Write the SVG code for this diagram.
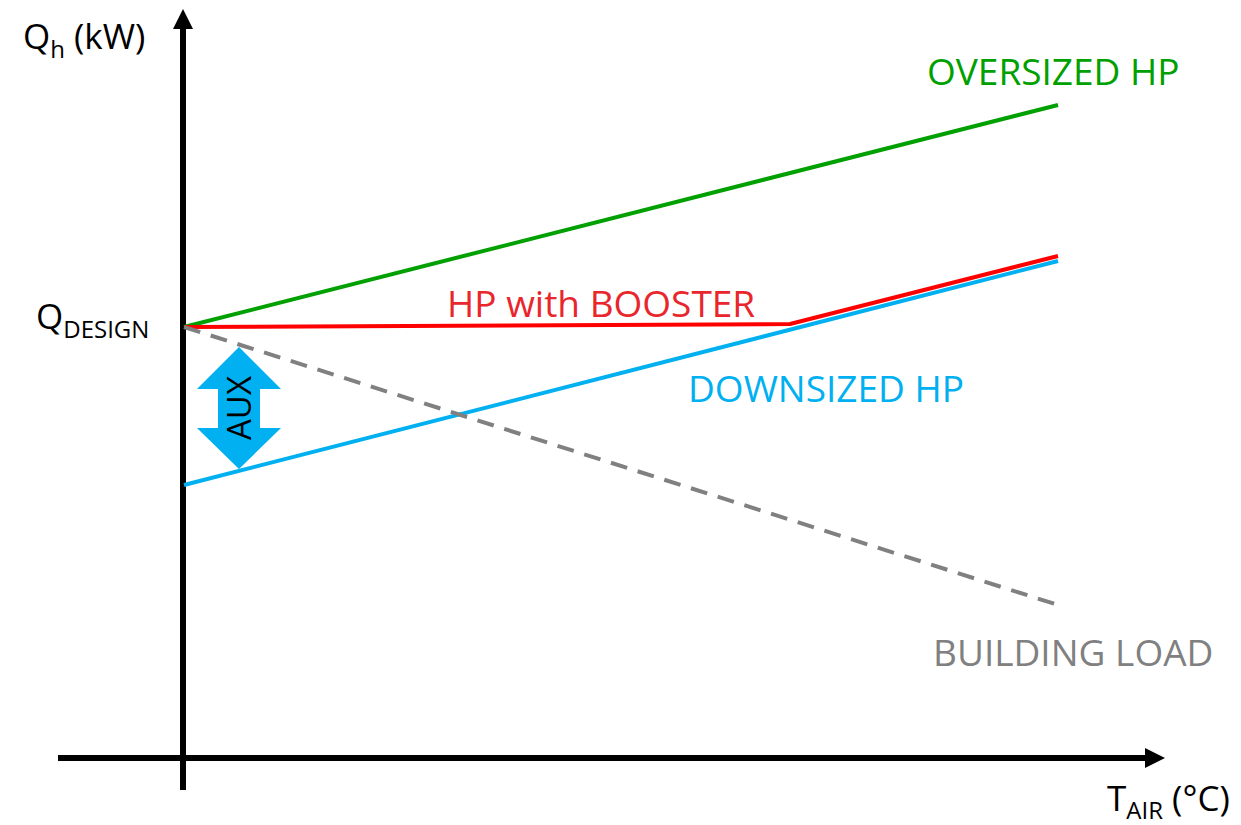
<svg xmlns="http://www.w3.org/2000/svg" width="1241" height="825" viewBox="0 0 1241 825">
  <defs>
    <marker id="axisHead" markerUnits="userSpaceOnUse" markerWidth="20" markerHeight="20" viewBox="0 0 18 18" refX="0" refY="9" orient="auto">
      <polygon points="0,0 18,9 0,18" fill="#000"/>
    </marker>
    <style>
      text { font-family: "Open Sans", "Liberation Sans", sans-serif; }
      .axis { stroke: #000; stroke-width: 6; fill: none; }
      .curve { fill: none; stroke-width: 4; stroke-linejoin: round; }
      .lbl { font-size: 37px; }
      .axlbl { font-size: 35px; fill: #000; }
      .sub { font-size: 24px; }
    </style>
  </defs>
  <rect width="1241" height="825" fill="#fff"/>

  <!-- axes -->
  <g id="axes">
    <line class="axis" x1="183" y1="790" x2="183" y2="29" marker-end="url(#axisHead)"/>
    <line class="axis" x1="58" y1="758" x2="1145" y2="758" marker-end="url(#axisHead)"/>
  </g>

  <!-- capacity and load curves -->
  <g id="connectors">
    <polyline id="oversized" class="curve" stroke="#00A000" points="184,327 1058,105"/>
    <polyline id="downsized" class="curve" stroke="#00B0F0" points="184,485 1058,261"/>
    <polyline id="booster" class="curve" stroke="#FF0000" points="184,327 790,324 1058,256"/>
    <polyline id="load" class="curve" stroke="#808080" stroke-dasharray="17,11" points="184,327 1055,604"/>
  </g>

  <!-- auxiliary heat gap -->
  <g id="aux">
    <polygon fill="#00B0F0" points="239,347 281,389 260,389 260,428 281,428 239,469 197,428 218,428 218,389 197,389"/>
    <text transform="translate(251,408) rotate(-90)" text-anchor="middle" font-size="33" fill="#000">AUX</text>
  </g>

  <!-- axis labels -->
  <g id="y-label">
    <text class="axlbl" x="23" y="49">Q<tspan class="sub" dy="9">h</tspan><tspan dy="-9"> (kW)</tspan></text>
  </g>
  <g id="design-label">
    <text class="axlbl" x="36" y="329">Q<tspan class="sub" dy="9">DESIGN</tspan></text>
  </g>
  <g id="x-label">
    <text class="axlbl" x="1107" y="811">T<tspan class="sub" dy="8">AIR</tspan><tspan dy="-8"> (°C)</tspan></text>
  </g>

  <!-- curve labels -->
  <g id="oversized-label">
    <text class="lbl" x="927" y="85" fill="#00A000">OVERSIZED HP</text>
  </g>
  <g id="booster-label">
    <text class="lbl" x="447" y="317" fill="#E8262C">HP with BOOSTER</text>
  </g>
  <g id="downsized-label">
    <text class="lbl" x="688" y="402" fill="#00B0F0">DOWNSIZED HP</text>
  </g>
  <g id="load-label">
    <text class="lbl" x="933" y="666" fill="#808080">BUILDING LOAD</text>
  </g>
</svg>
